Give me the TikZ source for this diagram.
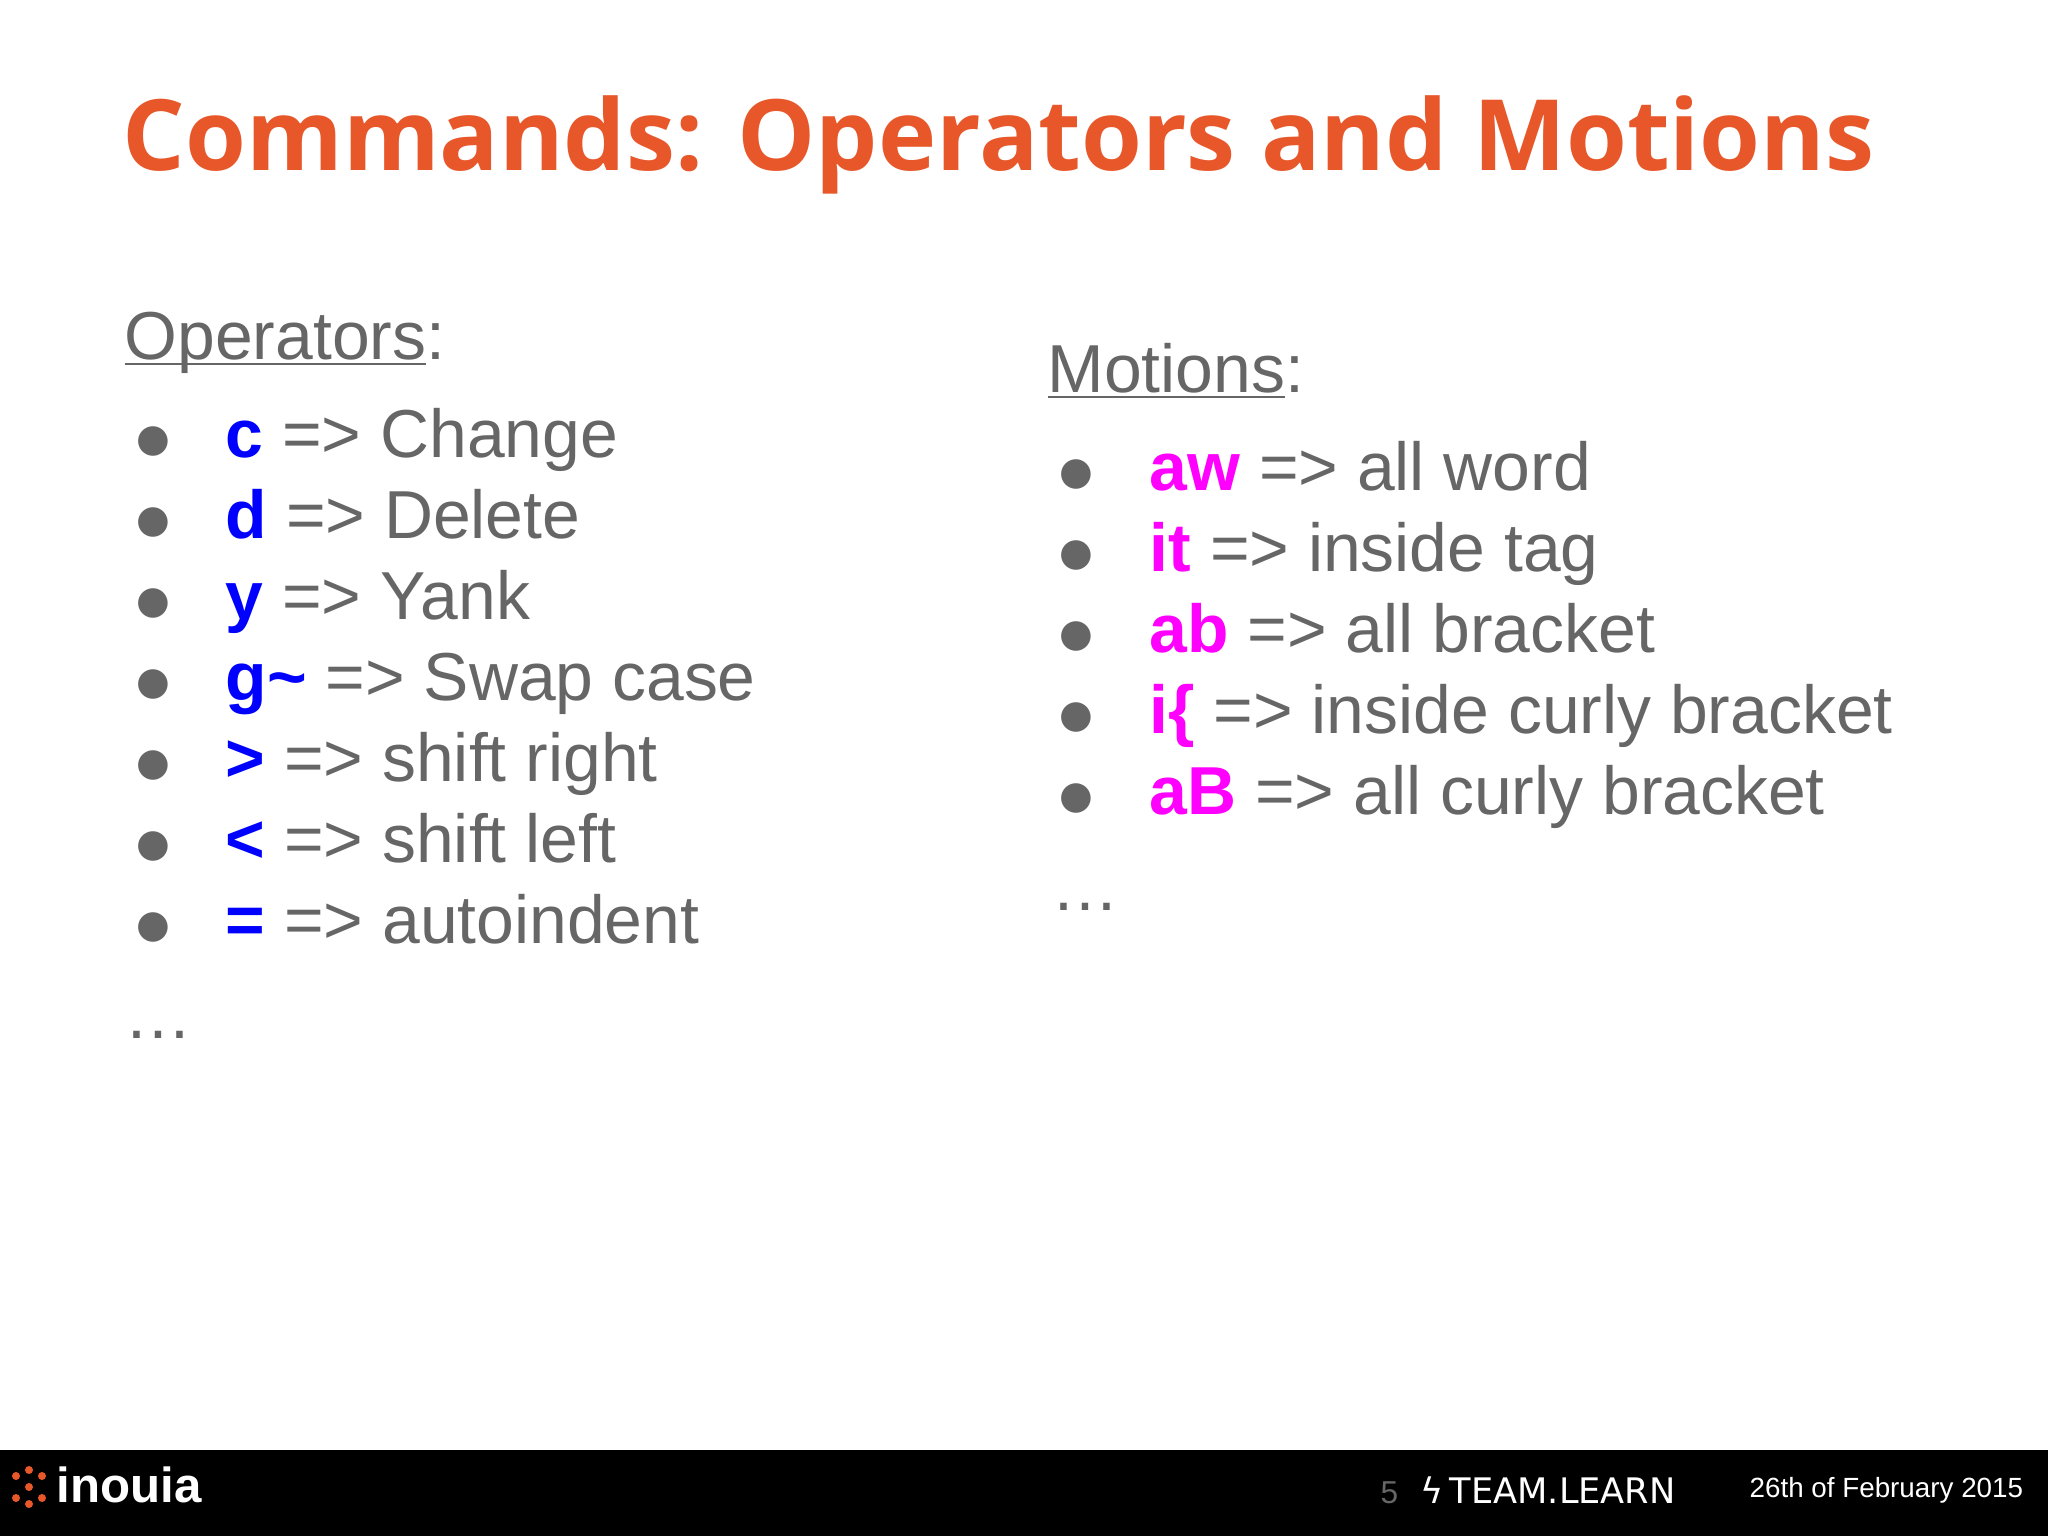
\documentclass[tikz,border=0pt]{standalone}
\usepackage{fontspec}
\setmainfont{Liberation Sans}
\newfontfamily\titlefont{Open Sans}
\newfontfamily\symfont{DejaVu Sans}
\definecolor{ttl}{HTML}{E8572A}
\definecolor{gtx}{HTML}{666666}
\definecolor{blu}{HTML}{0000FF}
\definecolor{mag}{HTML}{FF00FF}
\newcommand{\opb}[1]{\textcolor{blu}{\bfseries #1}}
\newcommand{\mtb}[1]{\textcolor{mag}{\bfseries #1}}
\newcommand{\myul}[1]{\underline{\smash{#1}\vphantom{x}}}
\begin{document}
\begin{tikzpicture}[x=0.01cm,y=-0.01cm,
  body/.style={anchor=base west,inner sep=0pt,font=\fontsize{19.3}{23}\selectfont,text=gtx},
  bul/.style={anchor=base,inner sep=0pt,font=\symfont\fontsize{11}{14}\selectfont,text=gtx}]
\useasboundingbox (0,0) rectangle (2048,1536);
\fill[white] (0,0) rectangle (2048,1536);
\fill[black] (0,1450) rectangle (2048,1536);
\node[anchor=base west,inner sep=0pt,text=ttl,font=\titlefont\bfseries\fontsize{28}{33}\selectfont] (title) at (122,170) {Commands: Operators and Motions};
\node[body] (ops) at (124,359) {\myul{Operators}:};
\foreach \y/\k/\t [count=\i] in {457/c/Change,538/d/Delete,619/y/Yank,700/g\textasciitilde/Swap case,781/>/shift right,862/</shift left,943/=/autoindent}{
  \node[bul] (ob\i) at (153,\y-6) {●};
  \node[body] (ot\i) at (225,\y) {\opb{\k} => \t};
}
\node[body] (odots) at (124,1038) {\dots};
\node[body] (mot) at (1047,392) {\myul{Motions}:};
\foreach \y/\k/\t [count=\i] in {490/aw/all word,571/it/inside tag,652/ab/all bracket,733/i\{/inside curly bracket,814/aB/all curly bracket}{
  \node[bul] (mb\i) at (1076,\y-6) {●};
  \node[body] (mt\i) at (1149,\y) {\mtb{\k} => \t};
}
\node[body] (mdots) at (1051,910) {\dots};
% footer
\fill[ttl] (16,1476) circle (4) (16,1498) circle (4) (29,1470) circle (4) (29,1487) circle (4) (29,1504) circle (4) (42,1476) circle (4) (42,1498) circle (4);
\node[anchor=base west,inner sep=0pt,text=white,font=\fontsize{14}{16}\selectfont\bfseries] (logo) at (56,1502) {inouia};
\node[anchor=base west,inner sep=0pt,text=gtx,font=\fontsize{9}{11}\selectfont] (pg) at (1380,1503) {5};
\node[anchor=base west,inner sep=0pt,text=white,font=\fontsize{10}{12}\selectfont] (steam) at (1420,1503) {\symfont ϟ\,TEAM.LEARN};
\node[anchor=base west,inner sep=0pt,text=white,font=\fontsize{7.9}{9}\selectfont] (date) at (1749,1497) {26th of February 2015};
\end{tikzpicture}
\end{document}
